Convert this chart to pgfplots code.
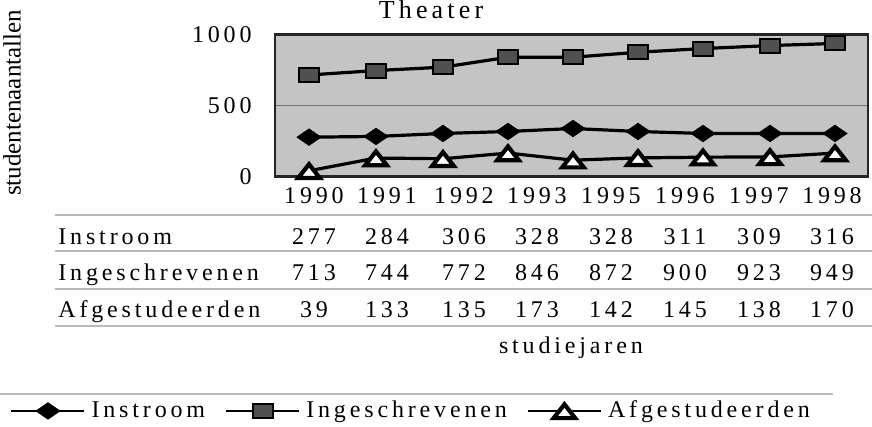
\documentclass[border=0pt]{standalone}
\usepackage{pgfplots}
\pgfplotsset{compat=1.18}
\usepackage{fontspec}
\setmainfont{Liberation Serif}[LetterSpace=16]
\newfontfamily\ylfont{Liberation Serif}
\definecolor{plotbg}{RGB}{196,196,196}
\definecolor{sqfill}{RGB}{80,80,80}
\definecolor{rulegray}{RGB}{185,185,185}
\pgfdeclareplotmark{mydiamond}{%
  \pgfpathmoveto{\pgfqpoint{0pt}{4.1pt}}%
  \pgfpathlineto{\pgfqpoint{6pt}{0pt}}%
  \pgfpathlineto{\pgfqpoint{0pt}{-4.1pt}}%
  \pgfpathlineto{\pgfqpoint{-6pt}{0pt}}%
  \pgfpathclose\pgfusepathqfillstroke}
\pgfdeclareplotmark{mysquare}{%
  \pgfpathrectangle{\pgfqpoint{-5pt}{-3.5pt}}{\pgfqpoint{10pt}{7pt}}%
  \pgfusepathqfillstroke}
\pgfdeclareplotmark{mytriangle}{%
  \pgfpathmoveto{\pgfqpoint{0pt}{3.3pt}}%
  \pgfpathlineto{\pgfqpoint{5.4pt}{-3.6pt}}%
  \pgfpathlineto{\pgfqpoint{-5.4pt}{-3.6pt}}%
  \pgfpathclose\pgfusepathqfillstroke}
\begin{document}
\fontsize{12}{14}\selectfont
\begin{tikzpicture}
\useasboundingbox (0pt,0pt) rectangle (436pt,-213.5pt);
\begin{axis}[
  at={(137.5pt,-88.25pt)}, anchor=south west,
  scale only axis, width=296.5pt, height=71pt,
  xmin=275, xmax=868, ymin=0, ymax=1000,
  axis background/.style={fill=plotbg},
  axis line style={line width=1.1pt, draw=black!85},
  xtick={312,385,462,535,609,683,757,830},
  xticklabels={1990,1991,1992,1993,1995,1996,1997,1998},
  ytick={0,500,1000}, yticklabels={0,500,1000},
  major tick length=0pt,
  ymajorgrids, grid style={black!55, line width=0.5pt},
  xticklabel style={anchor=base, inner sep=0pt, yshift=-13.25pt, xshift=1pt},
  yticklabel style={anchor=east, inner sep=0pt, xshift=-11.5pt},
  xlabel={studiejaren},
  xlabel style={at={(axis description cs:0.499,-1.243)}, anchor=base, inner sep=0pt},
  ylabel={studentenaantallen},
  ylabel style={font=\ylfont\fontsize{12.5}{14}\selectfont, at={(axis description cs:-0.4435,0.518)}, anchor=center, inner sep=0pt},
  legend columns=3,
  legend style={at={(axis description cs:-0.4469,-1.651)}, anchor=west, draw=none, fill=none, inner sep=0pt,
    nodes={inner sep=0pt},
    /tikz/every odd column/.append style={column sep=3pt},
    /tikz/every even column/.append style={column sep=10pt}},
  legend image code/.code={\draw[mark repeat=2,mark phase=2,#1,line width=1.1pt] plot coordinates {(0pt,0pt) (18.25pt,0pt) (36.5pt,0pt)};},
]
\addplot[black, line width=1.6pt, mark=mydiamond, mark options={fill=black, draw=black, line width=0.4pt}]
  coordinates {(309,277) (376,282) (443,303) (508,317) (573,338) (638,317) (703,303) (770,303) (835,303)};
\addplot[black, line width=1.6pt, mark=mysquare, mark options={fill=sqfill, draw=black, line width=1pt}]
  coordinates {(309,715) (376,746) (443,770) (508,840) (573,840) (638,875) (703,901) (770,922) (835,937)};
\addplot[black, line width=1.6pt, mark=mytriangle, mark options={fill=white, draw=black, line width=2.1pt}]
  coordinates {(309,40) (376,130) (443,125) (508,165) (573,115) (638,131) (703,136) (770,138) (835,165)};
\legend{Instroom, Ingeschrevenen, Afgestudeerden}
\end{axis}
\begin{scope}[x=0.5pt,y=-0.5pt]
\node[anchor=base, inner sep=0pt, font=\fontsize{13}{15}\selectfont] at (431,19) {Theater};
\foreach \yy in {215,251,289,326}{\draw[rulegray,line width=0.6pt] (55,\yy) -- (872,\yy);}
\draw[rulegray,line width=0.6pt] (0,394) -- (833,394);
\node[anchor=base west,inner sep=0pt] at (58,244) {Instroom};
\node[anchor=base west,inner sep=0pt] at (58,280.5) {Ingeschrevenen};
\node[anchor=base west,inner sep=0pt] at (58,317) {Afgestudeerden};
\foreach \xx/\a/\b/\c in {312/277/713/39, 385/284/744/133, 462/306/772/135, 535/328/846/173, 609/328/872/142, 683/311/900/145, 757/309/923/138, 830/316/949/170}{
  \node[anchor=base,inner sep=0pt,xshift=1pt] at (\xx,244) {\a};
  \node[anchor=base,inner sep=0pt,xshift=1pt] at (\xx,280.5) {\b};
  \node[anchor=base,inner sep=0pt,xshift=1pt] at (\xx,317) {\c};
}
\end{scope}
\end{tikzpicture}
\end{document}
